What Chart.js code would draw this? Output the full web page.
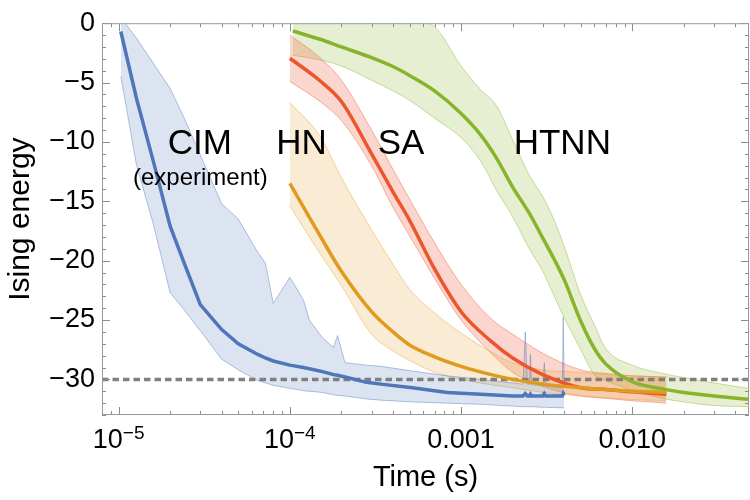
<!DOCTYPE html>
<html>
<head>
<meta charset="utf-8">
<script src="https://cdn.jsdelivr.net/npm/chart.js@4.4.1/dist/chart.umd.min.js"></script>
<style>
  html, body { margin: 0; padding: 0; background: #fff; }
  #wrap { width: 750px; height: 500px; }
</style>
</head>
<body>
<div id="wrap"><canvas id="chart" width="750" height="500"></canvas></div>
<script>
// Axis ranges and tick labels
const xMin = 8e-6;
const xMax = 0.048;
const yMin = -33;
const yMax = 0;
const yTicks = [0, -5, -10, -15, -20, -25, -30];
const xMajorTicks = [1e-5, 1e-4, 1e-3, 1e-2];
const xTickBase = ['10', '10', '0.001', '0.010'];
const xTickExp = ['\u22125', '\u22124', '', ''];
const groundEnergy = -30;

// CIM (experiment)
const cimTime = [1.03e-5, 1.27e-5, 1.6e-5, 2.0e-5, 2.4e-5, 3.0e-5, 4.0e-5, 5.0e-5, 6.5e-5, 7.2e-5, 8.0e-5,
  1.0e-4, 1.2e-4, 1.3e-4, 1.55e-4, 1.8e-4, 1.9e-4, 2.1e-4, 2.8e-4, 3.4e-4, 5.2e-4, 8.3e-4, 1.3e-3, 2.0e-3,
  2.3e-3, 2.37e-3, 2.44e-3, 2.5e-3, 2.54e-3, 2.58e-3, 3.0e-3, 3.06e-3, 3.12e-3, 3.9e-3, 3.95e-3, 4.0e-3];
const cimMean = [-0.7, -6.3, -11.7, -17.1, -20.1, -23.7, -25.8, -27.0, -27.9, -28.2, -28.45,
  -28.8, -29.0, -29.1, -29.35, -29.6, -29.65, -29.8, -30.25, -30.4, -30.7, -31.1, -31.25, -31.4,
  -31.4, -31.2, -31.4, -31.4, -31.25, -31.4, -31.4, -31.2, -31.4, -31.4, -31.2, -31.35];
const cimHigh = [0.5, -1.25, -3.4, -5.5, -7.9, -11.1, -15.2, -16.5, -19.3, -20.2, -23.6,
  -21.4, -23.3, -25.0, -26.5, -27.3, -26.3, -28.6, -28.8, -28.9, -29.3, -29.7, -30.0, -30.3,
  -30.4, -26.0, -30.4, -30.45, -27.9, -30.45, -30.55, -28.6, -30.55, -30.7, -24.8, -30.7];
const cimLow = [-4.45, -11.9, -17.0, -22.7, -24.1, -25.9, -28.3, -29.2, -30.1, -30.3, -30.5,
  -30.75, -30.95, -31.0, -31.1, -31.3, -31.35, -31.4, -31.65, -31.75, -31.9, -32.0, -32.1, -32.25,
  -32.3, -32.3, -32.3, -32.3, -32.3, -32.3, -32.35, -32.35, -32.35, -32.4, -32.4, -32.4];

// HN and SA share the same time grid
const hnTime = [1e-4, 1.5e-4, 2e-4, 3e-4, 4e-4, 5e-4, 7e-4, 1e-3, 1.5e-3, 2e-3, 3e-3, 5e-3, 7e-3, 1e-2, 1.58e-2];
const hnMean = [-13.5, -17.9, -20.9, -24.3, -26.0, -27.1, -28.1, -28.9, -29.6, -30.0, -30.4, -30.7, -30.85, -31.0, -31.1];
const hnHigh = [-6.7, -9.5, -13.0, -17.4, -20.3, -22.4, -24.4, -26.1, -27.7, -28.6, -29.2, -29.4, -29.6, -29.7, -29.8];
const hnLow = [-15.4, -19.4, -22.1, -26.2, -27.6, -28.4, -29.4, -30.0, -30.45, -30.7, -31.1, -31.4, -31.55, -31.7, -31.8];

const saTime = hnTime;
const saMean = [-2.95, -4.85, -6.6, -11.0, -14.2, -16.6, -20.7, -24.3, -26.8, -28.2, -29.6, -30.7, -30.85, -31.05, -31.25];
const saHigh = [-1.0, -2.9, -4.8, -9.0, -12.3, -14.8, -18.5, -22.0, -24.9, -26.2, -27.8, -29.2, -29.5, -29.7, -29.8];
const saLow = [-4.9, -6.6, -8.2, -12.0, -15.5, -17.9, -21.5, -25.0, -27.8, -29.4, -30.6, -31.4, -31.6, -31.8, -32.0];

// HTNN
const htnnTime = [1.04e-4, 1.5e-4, 2e-4, 3e-4, 4e-4, 5e-4, 7e-4, 1e-3, 1.3e-3, 1.6e-3, 2e-3, 2.5e-3,
  3e-3, 3.5e-3, 4e-3, 5e-3, 6e-3, 7e-3, 1e-2, 1.5e-2, 2e-2, 3e-2, 5e-2];
const htnnMean = [-0.66, -1.35, -2.0, -2.9, -3.65, -4.4, -5.7, -7.6, -9.4, -11.3, -13.8, -16.0,
  -18.1, -19.9, -21.6, -25.1, -27.4, -28.7, -30.2, -30.8, -31.1, -31.4, -31.7];
const htnnHigh = [1.0, 1.0, 1.0, 0.8, 0.5, 0.3, -0.3, -3.6, -5.6, -6.9, -9.8, -12.8,
  -14.6, -16.6, -18.8, -22.9, -25.4, -27.4, -28.8, -29.5, -29.85, -30.3, -30.8];
const htnnLow = [-2.7, -3.1, -3.6, -4.8, -5.7, -6.5, -8.0, -9.65, -11.6, -14.0, -16.3, -19.0,
  -20.9, -23.0, -24.8, -27.5, -29.6, -30.1, -30.9, -31.6, -31.9, -32.2, -32.3];

// Text labels inside the plot
const noteText = ['CIM', '(experiment)', 'HN', 'SA', 'HTNN'];
const noteTime = [2.98e-5, 3.0e-5, 1.17e-4, 4.46e-4, 3.9e-3];
const noteEnergy = [-11.05, -13.6, -11.05, -11.05, -11.05];
const noteSize = [35, 24, 35, 35, 35];

const FONT = '"Liberation Sans", Arial, sans-serif';

function pts(times, values) {
  return times.map((t, i) => ({ x: t, y: values[i] }));
}

// Build the two edge datasets of a shaded band (upper fills down to lower)
function band(times, low, high, rgb, alpha, smooth) {
  const edge = `rgba(${rgb},0.55)`;
  const common = {
    borderColor: edge,
    borderWidth: 0.8,
    pointRadius: 0,
    tension: 0,
    cubicInterpolationMode: smooth ? 'monotone' : 'default',
    order: 2,
    clip: 0
  };
  return [
    { ...common, data: pts(times, high), fill: '+1', backgroundColor: `rgba(${rgb},${alpha})` },
    { ...common, data: pts(times, low), fill: false }
  ];
}

function meanLine(times, values, color, smooth) {
  return {
    data: pts(times, values),
    borderColor: color,
    borderWidth: 3.5,
    pointRadius: 0,
    fill: false,
    tension: 0,
    cubicInterpolationMode: smooth ? 'monotone' : 'default',
    order: 0,
    clip: 0
  };
}

// Inward tick marks, frame, x labels with exponents and series names
const decorations = {
  id: 'decorations',
  afterDraw(chart) {
    const { ctx, chartArea: a, scales: { x, y } } = chart;
    ctx.save();
    ctx.strokeStyle = '#8c8c8c';
    ctx.lineWidth = 1;
    ctx.beginPath();
    for (let v = yMin; v <= yMax; v++) {
      const py = Math.round(y.getPixelForValue(v)) + 0.5;
      const len = v % 5 === 0 ? 8 : 4;
      ctx.moveTo(a.left, py); ctx.lineTo(a.left + len, py);
      ctx.moveTo(a.right, py); ctx.lineTo(a.right - len, py);
    }
    for (let e = -6; e <= -1; e++) {
      for (let m = 1; m <= 9; m++) {
        const v = m * Math.pow(10, e);
        if (v < xMin || v > xMax) continue;
        const px = Math.round(x.getPixelForValue(v)) + 0.5;
        const len = m === 1 ? 8 : 4;
        ctx.moveTo(px, a.bottom); ctx.lineTo(px, a.bottom - len);
        ctx.moveTo(px, a.top); ctx.lineTo(px, a.top + len);
      }
    }
    ctx.stroke();
    ctx.strokeStyle = '#999';
    ctx.strokeRect(a.left + 0.5, a.top + 0.5, a.right - a.left - 1, a.bottom - a.top - 1);

    ctx.fillStyle = '#000';
    ctx.textBaseline = 'alphabetic';
    ctx.textAlign = 'left';
    xMajorTicks.forEach((v, i) => {
      const px = x.getPixelForValue(v);
      ctx.font = `27px ${FONT}`;
      const wb = ctx.measureText(xTickBase[i]).width;
      ctx.font = `19px ${FONT}`;
      const we = xTickExp[i] ? ctx.measureText(xTickExp[i]).width : 0;
      const x0 = px - (wb + we) / 2;
      ctx.font = `27px ${FONT}`;
      ctx.fillText(xTickBase[i], x0, a.bottom + 33);
      if (xTickExp[i]) {
        ctx.font = `19px ${FONT}`;
        ctx.fillText(xTickExp[i], x0 + wb, a.bottom + 24);
      }
    });

    ctx.textAlign = 'center';
    noteText.forEach((t, i) => {
      ctx.font = `${noteSize[i]}px ${FONT}`;
      ctx.fillText(t, x.getPixelForValue(noteTime[i]), y.getPixelForValue(noteEnergy[i]));
    });
    ctx.restore();
  }
};

const datasets = [
  meanLine(cimTime, cimMean, 'rgb(78,118,184)', false),
  meanLine(hnTime, hnMean, 'rgb(224,154,30)', true),
  meanLine(saTime, saMean, 'rgb(236,86,44)', true),
  meanLine(htnnTime, htnnMean, 'rgb(136,180,44)', true),
  {
    data: [{ x: xMin, y: groundEnergy }, { x: xMax, y: groundEnergy }],
    borderColor: '#7f7f7f',
    borderWidth: 3.5,
    borderDash: [6.5, 4],
    pointRadius: 0,
    fill: false,
    order: 1,
    clip: 0
  },
  ...band(cimTime, cimLow, cimHigh, '80,120,185', 0.2, false),
  ...band(hnTime, hnLow, hnHigh, '232,160,40', 0.2, true),
  ...band(saTime, saLow, saHigh, '240,90,60', 0.25, true),
  ...band(htnnTime, htnnLow, htnnHigh, '140,180,45', 0.22, true)
];

new Chart(document.getElementById('chart'), {
  type: 'line',
  data: { datasets },
  options: {
    responsive: false,
    animation: false,
    layout: { padding: { left: 0, right: 1, top: 16, bottom: 0 } },
    plugins: {
      legend: { display: false },
      tooltip: { enabled: false }
    },
    scales: {
      x: {
        type: 'logarithmic',
        min: xMin,
        max: xMax,
        grid: { display: false, drawTicks: false },
        border: { display: false },
        ticks: { display: false },
        title: {
          display: true,
          text: 'Time (s)',
          color: '#000',
          font: { family: FONT, size: 29 },
          padding: { top: 0, bottom: 5 }
        },
        afterFit(scale) { scale.height = 85; }
      },
      y: {
        type: 'linear',
        min: yMin,
        max: yMax,
        grid: { display: false, drawTicks: false },
        border: { display: false },
        afterBuildTicks(scale) { scale.ticks = yTicks.map(v => ({ value: v })); },
        ticks: {
          color: '#000',
          padding: 7,
          font: { family: FONT, size: 27 },
          callback: v => (v === 0 ? '0' : '\u2212' + Math.abs(v))
        },
        title: {
          display: true,
          text: 'Ising energy',
          color: '#000',
          font: { family: FONT, size: 30 },
          padding: { top: 3, bottom: 0 }
        },
        afterFit(scale) { scale.width = 102; }
      }
    }
  },
  plugins: [decorations]
});
</script>
</body>
</html>
